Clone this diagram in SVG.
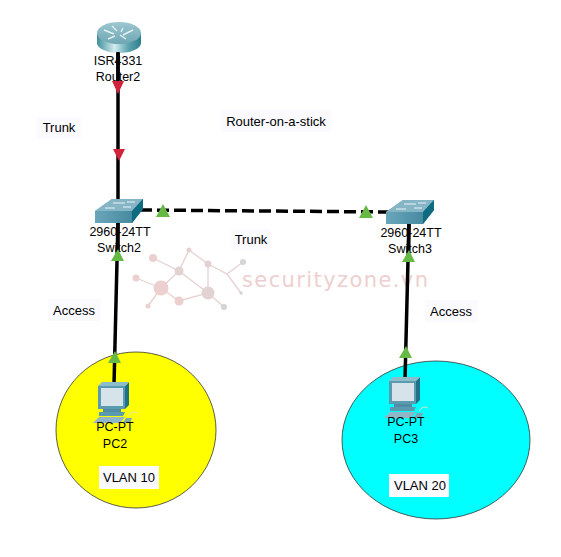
<svg xmlns="http://www.w3.org/2000/svg" width="561" height="557" viewBox="0 0 561 557">
<defs>
<linearGradient id="rg" x1="0" x2="1" y1="0" y2="0"><stop offset="0" stop-color="#3f8f9b"/><stop offset="0.4" stop-color="#d3ecef"/><stop offset="0.7" stop-color="#5fa5b0"/><stop offset="1" stop-color="#2d7f8e"/></linearGradient>
<linearGradient id="rt" x1="0" x2="0" y1="0" y2="1"><stop offset="0" stop-color="#9cc7d0"/><stop offset="1" stop-color="#6fa6b3"/></linearGradient>
<linearGradient id="sg" x1="0" x2="1" y1="0" y2="0"><stop offset="0" stop-color="#6aa6ba"/><stop offset="1" stop-color="#3d8299"/></linearGradient>
<g id="switch">
<path d="M-24,-1 L-7,-13 L24,-13 L24,-3 L13,11 L-24,11 Z" fill="url(#sg)"/>
<path d="M-24,-1 L-7,-13 L24,-13 L13,-1 Z" fill="#86b6c6"/>
<path d="M13,-1 L24,-13 L24,-3 L13,11 Z" fill="#0f6b80"/>
<path d="M-6,-9 L6,-9 M8,-10 L16,-10 M-14,-4 L-4,-4 M4,-5 L12,-5" stroke="#e8f4f7" stroke-width="1.2" fill="none"/>
</g>
<g id="pc">
<path d="M-16,-28 L11,-28 L11,-5 L-16,-5 Z" fill="#5b9bb0"/>
<path d="M11,-28 L15,-32 L15,-9 L11,-5 Z" fill="#1f7187"/>
<path d="M-16,-28 L-12,-32 L15,-32 L11,-28 Z" fill="#8dbccb"/>
<rect x="-13" y="-26" width="22" height="18" fill="#d6e3ea"/>
<path d="M-11,-5 L7,-5 L7,-2 L-11,-2 Z" fill="#4e8da3"/>
<path d="M-15,-2 L11,-2 L9,2 L-15,2 Z" fill="#5b9bb0"/>
<path d="M-21,9 L-15,3 L11,3 L6,9 Z" fill="#8fb7c6"/>
<path d="M9,9 L12,4 L18,4 L16,9 Z" fill="#7aa8b9"/>
<path d="M14,2 Q18,-4 23,-1" stroke="#d8e6c8" stroke-width="1" fill="none"/>
</g>
</defs>
<style>
.t{font-family:"Liberation Sans",Arial,sans-serif;font-size:13px;fill:#000;text-anchor:middle}
.d{font-size:12.500px}
.lb{fill:#fafaff}
.c{stroke:#000;stroke-width:3.500;fill:none}
.wl{fill:none;stroke:#e6d2d2;stroke-width:1.300}
</style>
<rect width="561" height="557" fill="#fff"/>
<g id="vlan-areas">
<ellipse cx="136" cy="430" rx="80" ry="78" fill="#ffff00" stroke="#333" stroke-width="0.8"/>
<ellipse cx="436" cy="440" rx="94" ry="79" fill="#00ffff" stroke="#333" stroke-width="0.8"/>
</g>
<g id="watermark">
<path class="wl" d="M161,288 L179,271 L153,258 M161,288 L136,278 M161,288 L148,306 M161,288 L179,301 L208,293 L179,271 L189,250 L208,264 L208,293 L224,307 M208,264 L227,274 L243,262 M227,274 L241,293"/>
<g fill="#eccfcf">
<circle cx="161" cy="288" r="7.500"/><circle cx="179" cy="301" r="4.500"/><circle cx="153" cy="258" r="4"/><circle cx="136" cy="278" r="3.500"/><circle cx="148" cy="306" r="2.500"/>
</g>
<g fill="#e2d2d2"><circle cx="179" cy="271" r="4.500"/><circle cx="208" cy="293" r="6.500"/><circle cx="208" cy="264" r="3.500"/><circle cx="189" cy="250" r="2.500"/></g>
<g fill="#d4d4d4"><circle cx="243" cy="262" r="3"/><circle cx="241" cy="293" r="1.700"/><circle cx="224" cy="307" r="3"/></g>
<text x="242" y="287" textLength="186" lengthAdjust="spacing" style="font-family:'DejaVu Sans',sans-serif;font-size:21px;fill:#eecfcf">securityzone.vn</text>
</g>
<g id="connectors">
<line class="c" x1="118" y1="45" x2="118" y2="205"/>
<line class="c" x1="140" y1="210" x2="390" y2="212" stroke-dasharray="12 5"/>
<line class="c" x1="118" y1="220" x2="114" y2="385"/>
<line class="c" x1="409" y1="220" x2="405" y2="380"/>
</g>
<g id="Router2">
<path d="M97,33 L97,43 A22,10 0 0 0 141,43 L141,33 Z" fill="url(#rg)"/>
<ellipse cx="119" cy="33" rx="22" ry="11" fill="url(#rt)"/>
<path d="M104,30 L114,34 M133,30 L123,35 M112,26 L117,31 M126,39 L120,35 M108,39 L115,36 M123,28 L121,32" stroke="#e3f1f3" stroke-width="1.4" fill="none"/>
<line class="c" x1="118" y1="52" x2="118" y2="80"/>
<text class="t d" x="118" y="65">ISR4331</text>
<text class="t d" x="118" y="81">Router2</text>
</g>
<g id="Switch2">
<use href="#switch" x="119" y="212"/>
<line class="c" x1="118" y1="223" x2="118" y2="252"/>
<text class="t d" x="120" y="236">2960-24TT</text>
<text class="t d" x="119" y="252">Switch2</text>
</g>
<g id="Switch3">
<use href="#switch" x="410" y="213"/>
<line class="c" x1="409" y1="224" x2="408.500" y2="252"/>
<text class="t d" x="411" y="237">2960-24TT</text>
<text class="t d" x="410" y="253">Switch3</text>
</g>
<g id="PC2">
<use href="#pc" x="114" y="414"/>
<text class="t d" x="115" y="431">PC-PT</text>
<text class="t d" x="115" y="448">PC2</text>
</g>
<g id="PC3">
<use href="#pc" x="405" y="409"/>
<text class="t d" x="406" y="426">PC-PT</text>
<text class="t d" x="406" y="443">PC3</text>
</g>
<g id="arrowheads">
<path d="M112,81 L124,81 L118,94 Z M113,149 L125,149 L119,161 Z" fill="#d2233c"/>
<path d="M156,217 L170,217 L163,204 Z M359,218 L373,218 L366,205 Z M111,261 L124,261 L118,249 Z M402,262 L415,262 L409,250 Z M108,363 L121,363 L115,351 Z M399,358 L412,358 L406,346 Z" fill="#66b944"/>
</g>
<g id="labels">
<rect class="lb" x="37" y="117" width="44" height="22"/><text class="t" x="59" y="132">Trunk</text>
<rect class="lb" x="221" y="110" width="110" height="22"/><text class="t" x="276" y="126">Router-on-a-stick</text>
<rect class="lb" x="231" y="229" width="40" height="21"/><text class="t" x="251" y="244">Trunk</text>
<rect class="lb" x="48" y="299" width="53" height="22"/><text class="t" x="74" y="315">Access</text>
<rect class="lb" x="425" y="300" width="53" height="22"/><text class="t" x="451" y="316">Access</text>
<rect class="lb" x="99" y="466" width="60" height="23"/><text class="t" x="129" y="482">VLAN 10</text>
<rect class="lb" x="389" y="474" width="60" height="23"/><text class="t" x="420" y="490">VLAN 20</text>
</g>
</svg>
